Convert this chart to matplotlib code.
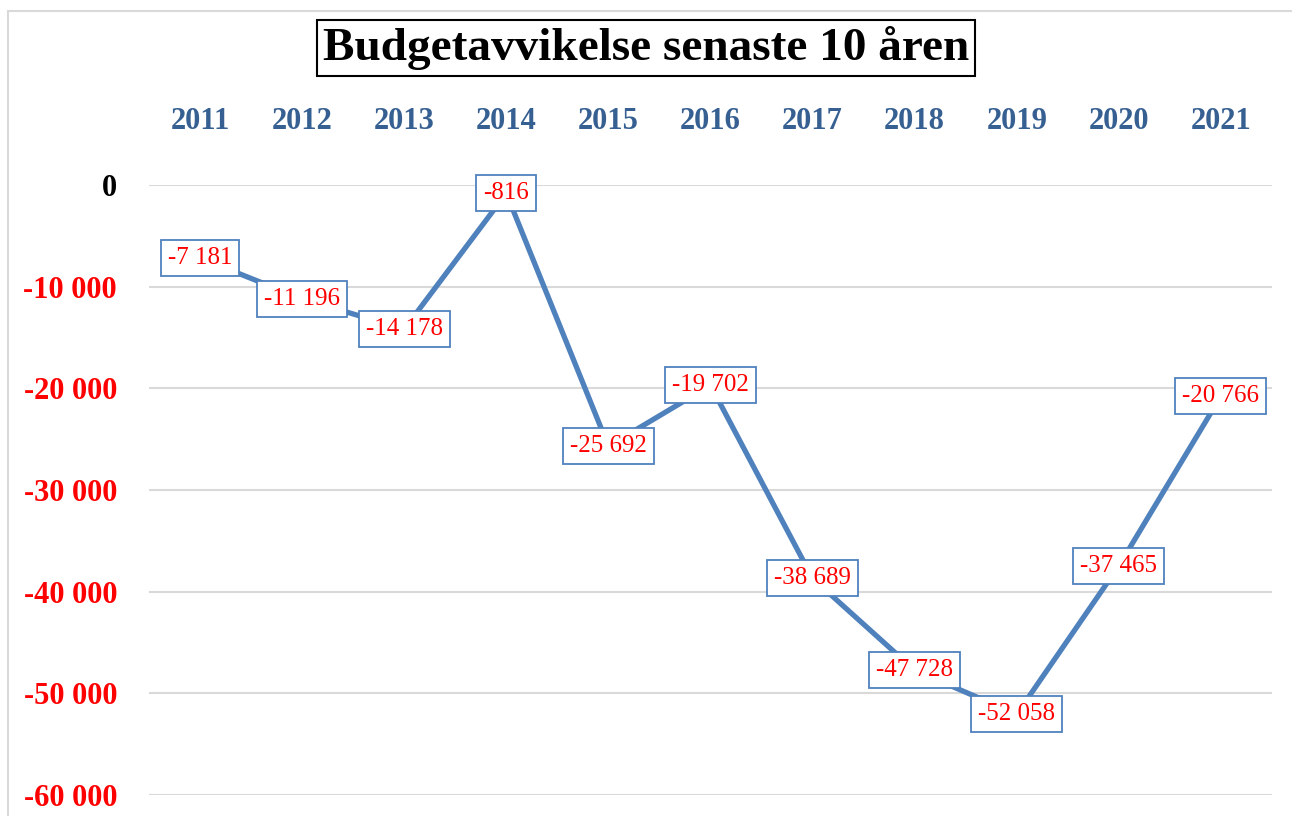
import matplotlib
matplotlib.use("Agg")
import matplotlib.pyplot as plt
from matplotlib.patches import Rectangle

years = ["2011", "2012", "2013", "2014", "2015", "2016", "2017", "2018", "2019", "2020", "2021"]
deviation = [-7181, -11196, -14178, -816, -25692, -19702, -38689, -47728, -52058, -37465, -20766]
y_ticks = [0, -10000, -20000, -30000, -40000, -50000, -60000]

LINE_BLUE = "#4F81BD"
YEAR_BLUE = "#376092"
GRID = "#D9D9D9"
SERIF = "Liberation Serif"


def fmt(v):
    return f"{v:,}".replace(",", " ")


fig = plt.figure(figsize=(12.92, 8.16), dpi=100, facecolor="white")

# outer chart frame (cropped at right and bottom)
fig.patches.append(Rectangle((8 / 1292, -0.5), 2.0, 1.5 - 11 / 816, transform=fig.transFigure,
                             facecolor="none", edgecolor=GRID, linewidth=1.5))

ax = fig.add_axes([149 / 1292, 1 - 795 / 816, 1123 / 1292, 610 / 816])
x = list(range(len(years)))
ax.plot(x, deviation, color=LINE_BLUE, linewidth=3.8, solid_capstyle="butt", zorder=3, clip_on=False)

for xi, v in zip(x, deviation):
    ax.text(xi, v, fmt(v), ha="center", va="center", color="red", fontsize=18, family=SERIF,
            zorder=4, bbox=dict(boxstyle="square,pad=0.28", facecolor="white", edgecolor=LINE_BLUE, linewidth=1.3))

ax.set_xlim(-0.5, len(years) - 0.5)
ax.set_ylim(-60000, 0)
ax.xaxis.tick_top()
ax.set_xticks(x)
ax.set_xticklabels(years, fontsize=22, fontweight="bold", color=YEAR_BLUE, family=SERIF)
ax.tick_params(axis="x", length=0, pad=35)
ax.set_yticks(y_ticks)
ax.set_yticklabels([fmt(t) for t in y_ticks], fontsize=22, fontweight="bold", family=SERIF)
for lbl, t in zip(ax.get_yticklabels(), y_ticks):
    lbl.set_color("black" if t == 0 else "red")
ax.tick_params(axis="y", length=0, pad=23)
ax.grid(axis="y", color=GRID, linewidth=1.5)
ax.set_axisbelow(True)
for s in ax.spines.values():
    s.set_visible(False)

fig.text(646 / 1292, 1 - 48 / 816, "Budgetavvikelse senaste 10 åren", ha="center", va="center",
         fontsize=34, fontweight="bold", family=SERIF,
         bbox=dict(boxstyle="square,pad=0.12", facecolor="white", edgecolor="black", linewidth=1.5))

fig.savefig("out.png", dpi=100)
